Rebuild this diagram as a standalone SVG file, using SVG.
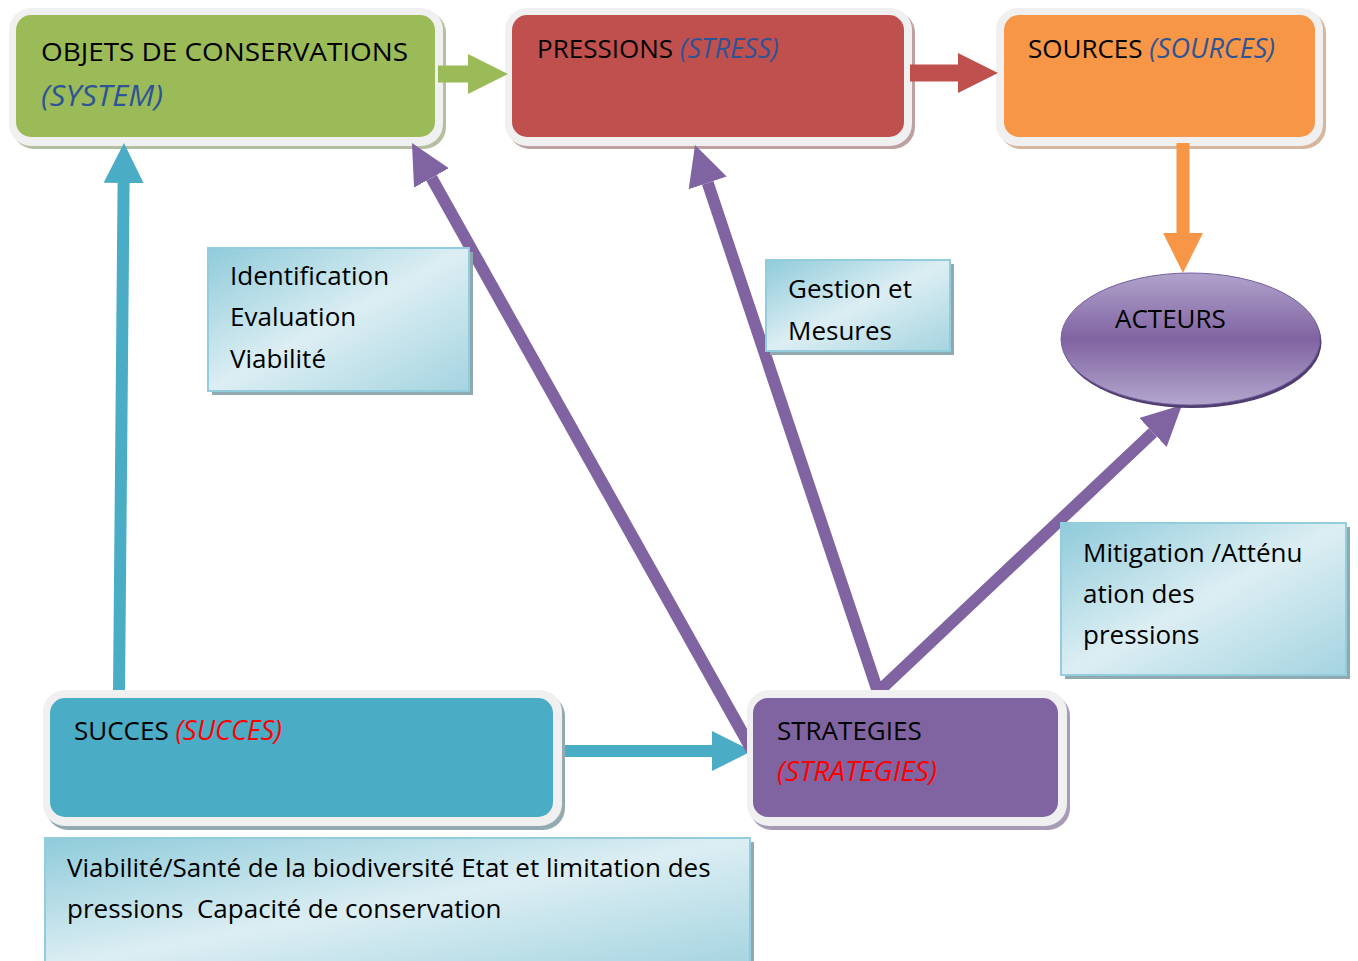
<svg xmlns="http://www.w3.org/2000/svg" width="1358" height="961" viewBox="0 0 1358 961">
<defs>
<linearGradient id="tb" x1="0" y1="0" x2="1" y2="1">
<stop offset="0" stop-color="#8FCBDA"/>
<stop offset="0.5" stop-color="#DCEEF3"/>
<stop offset="1" stop-color="#A4D4E0"/>
</linearGradient>
<linearGradient id="ell" x1="0" y1="0" x2="0" y2="1">
<stop offset="0" stop-color="#B0A2CB"/>
<stop offset="0.5" stop-color="#8064A2"/>
<stop offset="1" stop-color="#B3A6CD"/>
</linearGradient>
<marker id="hG" markerUnits="userSpaceOnUse" markerWidth="40" markerHeight="40" viewBox="0 0 40 40" refX="0" refY="20" orient="auto-start-reverse"><path d="M0,0 L40,20 L0,40 z" fill="#9BBB59"/></marker>
<marker id="hR" markerUnits="userSpaceOnUse" markerWidth="40" markerHeight="40" viewBox="0 0 40 40" refX="0" refY="20" orient="auto-start-reverse"><path d="M0,0 L40,20 L0,40 z" fill="#C0504D"/></marker>
<marker id="hO" markerUnits="userSpaceOnUse" markerWidth="40" markerHeight="40" viewBox="0 0 40 40" refX="0" refY="20" orient="auto-start-reverse"><path d="M0,0 L40,20 L0,40 z" fill="#F79646"/></marker>
<marker id="hB" markerUnits="userSpaceOnUse" markerWidth="40" markerHeight="40" viewBox="0 0 40 40" refX="0" refY="20" orient="auto-start-reverse"><path d="M0,0 L40,20 L0,40 z" fill="#4BACC6"/></marker>
<marker id="hP" markerUnits="userSpaceOnUse" markerWidth="40" markerHeight="40" viewBox="0 0 40 40" refX="0" refY="20" orient="auto-start-reverse"><path d="M0,0 L40,20 L0,40 z" fill="#8064A2"/></marker>
</defs>
<style>
text{font-family:"Open Sans","Liberation Sans",sans-serif;font-size:26px;fill:#000;white-space:pre}
.it{font-style:italic;font-size:27px}
.blu{fill:#2F5496}
.red{fill:#FF0000}
.outer{fill:#F0F0F0}
.tbox{fill:url(#tb);stroke:#93CDDD;stroke-width:2}
.tsh{fill:#8FA9B0}
.conn{fill:none;stroke-linecap:butt}
</style>
<rect width="1358" height="961" fill="#FFFFFF"/>

<g id="node-objets">
<rect x="12" y="11" width="434" height="138" rx="22" fill="#B3BFA0"/>
<rect x="9" y="8" width="434" height="138" rx="22" class="outer"/>
<rect x="16" y="15" width="419" height="122" rx="15" fill="#9BBB59"/>
<text x="41" y="61" textLength="367" lengthAdjust="spacingAndGlyphs">OBJETS DE CONSERVATIONS</text>
<text x="41" y="106" class="it blu" style="font-size:29px" textLength="122" lengthAdjust="spacingAndGlyphs">(SYSTEM)</text>
</g>

<g id="node-pressions">
<rect x="508" y="11" width="407" height="138" rx="22" fill="#BFA0A0"/>
<rect x="505" y="8" width="407" height="138" rx="22" class="outer"/>
<rect x="512" y="15" width="392" height="122" rx="15" fill="#C0504D"/>
<text x="537" y="58">PRESSIONS <tspan class="it blu">(STRESS)</tspan></text>
</g>

<g id="node-sources">
<rect x="999" y="11" width="327" height="138" rx="22" fill="#D6B79E"/>
<rect x="996" y="8" width="327" height="138" rx="22" class="outer"/>
<rect x="1004" y="15" width="311" height="122" rx="15" fill="#F79646"/>
<text x="1028" y="58">SOURCES <tspan class="it blu">(SOURCES)</tspan></text>
</g>

<g id="connectors">
<line class="conn" x1="438" y1="74" x2="468" y2="74" stroke="#9BBB59" stroke-width="17" marker-end="url(#hG)"/>
<line class="conn" x1="910" y1="73" x2="958" y2="73" stroke="#C0504D" stroke-width="17" marker-end="url(#hR)"/>
<line class="conn" x1="1183" y1="143" x2="1183" y2="233" stroke="#F79646" stroke-width="13" marker-end="url(#hO)"/>
<line class="conn" x1="119" y1="692" x2="123.6" y2="183" stroke="#4BACC6" stroke-width="12" marker-end="url(#hB)"/>
<line class="conn" x1="557" y1="751" x2="712" y2="751" stroke="#4BACC6" stroke-width="12" marker-end="url(#hB)"/>
<line class="conn" x1="752" y1="750" x2="431.5" y2="177.9" stroke="#8064A2" stroke-width="12" marker-end="url(#hP)"/>
<path class="conn" d="M707.7,182.9 L878,692 L1152.9,432.5" stroke="#8064A2" stroke-width="12" stroke-linejoin="miter" marker-start="url(#hP)" marker-end="url(#hP)"/>
</g>

<g id="node-acteurs">
<ellipse cx="1192" cy="342" rx="129.5" ry="66" fill="#4E3D6E"/>
<ellipse cx="1190.5" cy="339" rx="129.5" ry="66" fill="url(#ell)" stroke="#7560A0" stroke-width="1"/>
<text x="1115" y="328">ACTEURS</text>
</g>

<g id="note-identification">
<rect x="212" y="252" width="261" height="143" class="tsh"/>
<rect x="208" y="248" width="261" height="143" class="tbox"/>
<text x="230" y="285">Identification</text>
<text x="230" y="326">Evaluation</text>
<text x="230" y="368">Viabilité</text>
</g>

<g id="note-gestion">
<rect x="770" y="264" width="184" height="91" class="tsh"/>
<rect x="766" y="260" width="184" height="91" class="tbox"/>
<text x="788" y="298">Gestion et</text>
<text x="788" y="340">Mesures</text>
</g>

<g id="note-mitigation">
<rect x="1065" y="527" width="285" height="152" class="tsh"/>
<rect x="1061" y="523" width="285" height="152" class="tbox"/>
<text x="1083" y="562">Mitigation /Atténu</text>
<text x="1083" y="603">ation des</text>
<text x="1083" y="644">pressions</text>
</g>

<g id="node-succes">
<rect x="46" y="694" width="519" height="136" rx="22" fill="#93AAB1"/>
<rect x="43" y="690" width="519" height="136" rx="22" class="outer"/>
<rect x="50" y="698" width="503" height="119" rx="15" fill="#4BACC6"/>
<text x="74" y="740">SUCCES <tspan class="it red">(SUCCES)</tspan></text>
</g>

<g id="node-strategies">
<rect x="750" y="694" width="320" height="136" rx="22" fill="#A79BB5"/>
<rect x="747" y="690" width="320" height="136" rx="22" class="outer"/>
<rect x="753" y="698" width="305" height="119" rx="15" fill="#8064A2"/>
<text x="777" y="740">STRATEGIES</text>
<text x="777" y="781" class="it red" textLength="160" lengthAdjust="spacingAndGlyphs">(STRATEGIES)</text>
</g>

<g id="note-bottom">
<rect x="49" y="842" width="705" height="130" class="tsh"/>
<rect x="45" y="838" width="705" height="130" class="tbox"/>
<text x="67" y="877">Viabilité/Santé de la biodiversité Etat et limitation des</text>
<text x="67" y="918">pressions  Capacité de conservation</text>
</g>
</svg>
